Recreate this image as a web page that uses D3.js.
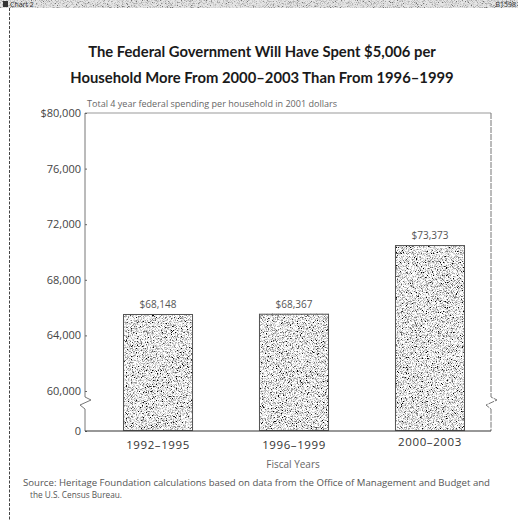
<!DOCTYPE html>
<html>
<head>
<meta charset="utf-8">
<script src="https://cdn.jsdelivr.net/npm/d3@7"></script>
<style>
  body { margin: 0; background: #fff; }
  svg { display: block; font-family: "Open Sans", "Noto Sans", sans-serif; }
</style>
</head>
<body>
<svg id="chart"></svg>
<script>
// values as the bars are drawn in the picture, and the labels printed above them
var periods = ["1992\u20131995", "1996\u20131999", "2000\u20132003"];
var barValues = [65540, 65560, 70500];
var barLabels = ["$68,148", "$68,367", "$73,373"];
var tickValues = [0, 60000, 64000, 68000, 72000, 76000, 80000];
var tickLabels = ["0", "60,000", "64,000", "68,000", "72,000", "76,000", "$80,000"];

var titleLines = ["The Federal Government Will Have Spent $5,006 per",
                  "Household More From 2000\u20132003 Than From 1996\u20131999"];
var subtitle = "Total 4 year federal spending per household in 2001 dollars";
var sourceLines = ["Source: Heritage Foundation calculations based on data from the Office of Management and Budget and",
                   "the U.S. Census Bureau."];

(function() {
    var W = 518, H = 520;
    var plot = { left: 85, right: 491, top: 113, bottom: 431 };

    var svg = d3.select("#chart").attr("width", W).attr("height", H);

    var defs = svg.append("defs");
    // speckled fill for the bars
    var f = defs.append("filter").attr("id", "speckle")
        .attr("x", 0).attr("y", 0).attr("width", 1).attr("height", 1);
    f.append("feTurbulence").attr("type", "fractalNoise")
        .attr("baseFrequency", 1.2).attr("numOctaves", 2).attr("seed", 3).attr("result", "n");
    f.append("feColorMatrix").attr("in", "n").attr("type", "matrix")
        .attr("values", "0 0 0 3.2 -0.8  0 0 0 3.2 -0.8  0 0 0 3.2 -0.8  0 0 0 0 1")
        .attr("result", "g");
    f.append("feComposite").attr("in", "g").attr("in2", "SourceGraphic").attr("operator", "in");

    // header strip
    svg.append("rect").attr("x", 0).attr("y", 0).attr("width", W).attr("height", 8).attr("fill", "#d2d2d2");
    svg.append("rect").attr("x", 0).attr("y", 0).attr("width", W).attr("height", 8)
        .attr("fill", "#999").attr("filter", "url(#speckle)").attr("opacity", 0.45);
    svg.append("rect").attr("x", 3).attr("y", 1).attr("width", 5).attr("height", 6).attr("fill", "#333");
    svg.append("text").attr("x", 10).attr("y", 7).style("font-size", "7px").attr("fill", "#333").text("Chart 2");
    svg.append("text").attr("x", 516).attr("y", 7).style("font-size", "7px").attr("fill", "#333")
        .style("text-anchor", "end").text("B1598");

    // left page border
    svg.append("line").attr("x1", 9.5).attr("x2", 9.5).attr("y1", 8).attr("y2", H)
        .attr("stroke", "#444").attr("stroke-dasharray", "3,1.5");

    // title
    svg.append("g").selectAll("text").data(titleLines).enter().append("text")
        .attr("x", 262).attr("y", (d, i) => 57 + i * 26)
        .attr("text-anchor", "middle")
        .style("font-family", "Lato, 'Open Sans', sans-serif")
        .style("font-size", "14.8px").style("font-weight", 700).attr("fill", "#1a1a1a")
        .text(d => d);

    svg.append("text").attr("x", 87).attr("y", 107)
        .attr("textLength", 250).attr("lengthAdjust", "spacingAndGlyphs")
        .style("font-size", "9.5px").attr("fill", "#666").text(subtitle);

    // scales
    var x = d3.scaleBand().domain(periods).range([90, 498])
        .paddingInner(0.485).paddingOuter(0.2426);
    var y = d3.scaleLinear().domain([0, 60000, 80000])
        .range([plot.bottom, 391, plot.top]);

    // frame: top, left and right with axis breaks
    svg.append("line").attr("x1", plot.left).attr("x2", plot.right)
        .attr("y1", plot.top).attr("y2", plot.top).attr("stroke", "#999").attr("stroke-width", 1.2);

    function brokenLine(xp, dir) {
        var zy = 397;
        return "M" + xp + "," + plot.top + " L" + xp + "," + zy +
            " L" + (xp + 6 * dir) + "," + (zy + 3) +
            " L" + (xp - 5 * dir) + "," + (zy + 8) +
            " L" + xp + "," + (zy + 12) +
            " L" + xp + "," + plot.bottom;
    }
    svg.append("path").attr("d", brokenLine(plot.left, 1))
        .attr("fill", "none").attr("stroke", "#777").attr("stroke-width", 1);
    svg.append("path").attr("d", brokenLine(plot.right, 1))
        .attr("fill", "none").attr("stroke", "#777").attr("stroke-width", 1)
        .attr("stroke-dasharray", "6,1");

    // y axis
    var yAxis = svg.append("g").attr("transform", `translate(${plot.left},0)`)
        .call(d3.axisLeft(y).tickValues(tickValues).tickSize(0).tickPadding(4)
            .tickFormat((d, i) => tickLabels[i]));
    yAxis.select(".domain").remove();
    yAxis.selectAll("text").style("font-size", "11px").attr("fill", "#444")
        .style("font-family", "'Open Sans', sans-serif");
    yAxis.selectAll(".tick").append("line").attr("x1", 0).attr("x2", 2).attr("stroke", "#666");

    // bars
    var bars = svg.append("g");
    bars.selectAll("rect.fill").data(barValues).enter().append("rect")
        .attr("class", "fill")
        .attr("x", (d, i) => x(periods[i]))
        .attr("y", d => y(d))
        .attr("width", x.bandwidth())
        .attr("height", d => y(0) - y(d))
        .attr("fill", "#999").attr("filter", "url(#speckle)");
    bars.selectAll("rect.edge").data(barValues).enter().append("rect")
        .attr("class", "edge")
        .attr("x", (d, i) => x(periods[i]) + 0.5)
        .attr("y", d => y(d) + 0.5)
        .attr("width", x.bandwidth() - 1)
        .attr("height", d => y(0) - y(d) - 1)
        .attr("fill", "none").attr("stroke", "#555").attr("stroke-width", 1);

    bars.selectAll("text").data(barValues).enter().append("text")
        .attr("x", (d, i) => x(periods[i]) + x.bandwidth() / 2)
        .attr("y", d => y(d) - 6)
        .attr("text-anchor", "middle").style("font-size", "10px").attr("fill", "#555")
        .text((d, i) => barLabels[i]);

    // baseline
    svg.append("line").attr("x1", plot.left).attr("x2", plot.right)
        .attr("y1", plot.bottom).attr("y2", plot.bottom).attr("stroke", "#333").attr("stroke-width", 1.2);

    // x axis labels
    var xAxis = svg.append("g").attr("transform", `translate(0,${plot.bottom})`)
        .call(d3.axisBottom(x).tickSize(0).tickPadding(10));
    xAxis.select(".domain").remove();
    xAxis.selectAll("text").style("font-size", "11.5px").attr("fill", "#333")
        .style("letter-spacing", "0.6px")
        .style("font-family", "'Open Sans', sans-serif")
        .attr("dy", (d, i) => i === 2 ? "0.4em" : "0.71em");

    svg.append("text").attr("x", 293).attr("y", 468).attr("text-anchor", "middle")
        .style("font-size", "10px").attr("fill", "#666").text("Fiscal Years");

    svg.append("g").selectAll("text").data(sourceLines).enter().append("text")
        .attr("x", (d, i) => i === 0 ? 23 : 30).attr("y", (d, i) => 486 + i * 12)
        .attr("textLength", (d, i) => i === 0 ? 467 : 92)
        .attr("lengthAdjust", "spacingAndGlyphs")
        .style("font-size", "8.5px").attr("fill", "#555").text(d => d);
})();
</script>
</body>
</html>
